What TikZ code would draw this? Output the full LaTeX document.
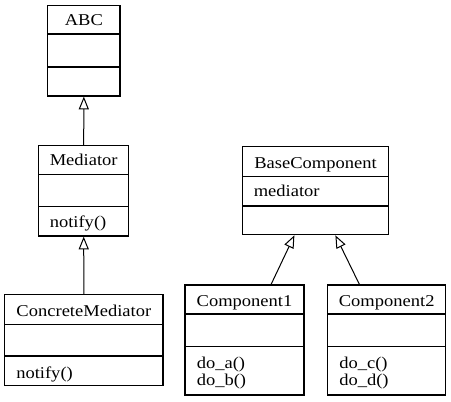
\documentclass[tikz,border=0pt]{standalone}
\usepackage{fontspec}
\setmainfont{Liberation Serif}[FakeStretch=1.12]
\usetikzlibrary{arrows.meta,calc}
\tikzset{
  umlbox/.style={draw,line width=0.9pt,inner sep=0pt,rectangle},
  divider/.style={line width=0.9pt},
  lbl/.style={anchor=base,inner sep=0pt,font=\fontsize{12.4pt}{14pt}\selectfont},
  llbl/.style={anchor=base west,inner sep=0pt,font=\fontsize{12.4pt}{14pt}\selectfont,align=left},
  inherit/.style={line width=0.75pt,-{Triangle[open,length=9.5pt,width=7.5pt,line width=0.75pt]}}
}
\begin{document}
\begin{tikzpicture}[x=0.75pt,y=-0.75pt]
\useasboundingbox (0,0) rectangle (451,401);
% ABC
\node[umlbox,minimum width=72.3*0.75pt,minimum height=90.3*0.75pt] (abc) at (83.85,50.85) {};
\draw[divider] (47.7,34) -- (120,34);
\draw[divider] (47.7,67) -- (120,67);
\node[lbl] (abct) at (83.85,25.7) {ABC};
% Mediator
\node[umlbox,minimum width=90*0.75pt,minimum height=90.3*0.75pt] (med) at (83.7,190.85) {};
\draw[divider] (38.7,174.3) -- (128.7,174.3);
\draw[divider] (38.7,206.7) -- (128.7,206.7);
\node[lbl] (medt) at (83.7,165.7) {Mediator};
\node[llbl] (medm) at (49.5,227.7) {notify()};
% ConcreteMediator
\node[umlbox,minimum width=158.3*0.75pt,minimum height=91*0.75pt] (cm) at (83.85,340.2) {};
\draw[divider] (4.7,324.3) -- (163,324.3);
\draw[divider] (4.7,356) -- (163,356);
\node[lbl] (cmt) at (83.85,316) {ConcreteMediator};
\node[llbl] (cmm) at (16,378) {notify()};
% BaseComponent
\node[umlbox,minimum width=146.4*0.75pt,minimum height=88*0.75pt] (bc) at (315.5,190.7) {};
\draw[divider] (242.3,176.7) -- (388.7,176.7);
\draw[divider] (242.3,206) -- (388.7,206);
\node[lbl] (bct) at (315.5,168.3) {BaseComponent};
\node[llbl] (bca) at (253.5,196.7) {mediator};
% Component1
\node[umlbox,minimum width=119*0.75pt,minimum height=110*0.75pt] (c1) at (244.5,340) {};
\draw[divider] (185,314) -- (304,314);
\draw[divider] (185,346.7) -- (304,346.7);
\node[lbl] (c1t) at (244.5,306.7) {Component1};
\node[llbl] (c1a) at (196.5,368) {do\_a()};
\node[llbl] (c1b) at (196.5,385) {do\_b()};
% Component2
\node[umlbox,minimum width=118*0.75pt,minimum height=110*0.75pt] (c2) at (386.7,340) {};
\draw[divider] (327.7,314) -- (445.7,314);
\draw[divider] (327.7,346.7) -- (445.7,346.7);
\node[lbl] (c2t) at (386.7,306.7) {Component2};
\node[llbl] (c2a) at (339,368) {do\_c()};
\node[llbl] (c2b) at (339,385) {do\_d()};
% inheritance
\draw[inherit] (med.north) -- (abc.south);
\draw[inherit] (cm.north) -- (med.south);
\draw[inherit] ($(c1.north west)+(86.7,0)$) -- ($(bc.south west)+(52.7,0)$);
\draw[inherit] ($(c2.north west)+(32.3,0)$) -- ($(bc.south west)+(93.7,0)$);
\end{tikzpicture}
\end{document}
